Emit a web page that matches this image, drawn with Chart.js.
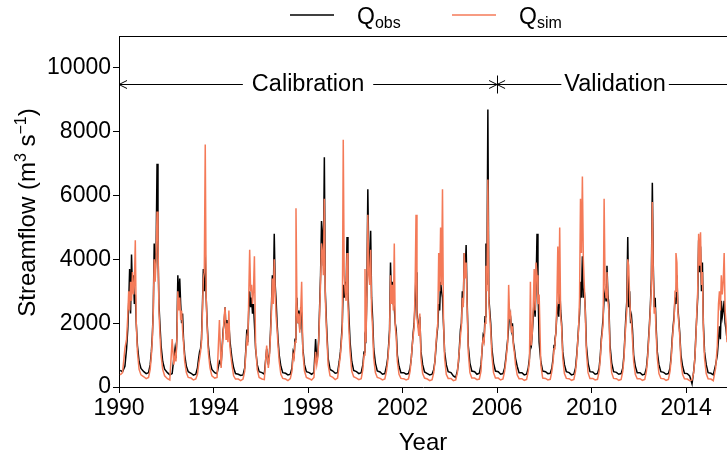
<!DOCTYPE html>
<html>
<head>
<meta charset="utf-8">
<script src="https://cdn.jsdelivr.net/npm/chart.js@4.4.1/dist/chart.umd.min.js"></script>
<style>
  html, body { margin: 0; padding: 0; background: #fff; }
</style>
</head>
<body>
<canvas id="flowChart" width="727" height="457"></canvas>
<script>
// one row per year, values at the positions inside the year given by `phases`
const years = [1990, 1991, 1992, 1993, 1994, 1995, 1996, 1997, 1998, 1999, 2000, 2001, 2002,
               2003, 2004, 2005, 2006, 2007, 2008, 2009, 2010, 2011, 2012, 2013, 2014, 2015];
const phases = [0.05, 0.15, 0.25, 0.32, 0.37, 0.41, 0.45, 0.49, 0.53, 0.57, 0.61, 0.65, 0.69, 0.73, 0.78, 0.85, 0.93];

const obs = [
  520, 480, 650, 1200, 1800, 2600, 3700, 2300, 4150, 3000, 3500, 2600, 2900, 2000, 1300, 800, 580,
  480, 420, 450, 700, 1100, 1600, 2400, 4500, 3600, 4200, 7000, 4300, 2600, 2000, 1300, 800, 560,
  450, 380, 420, 900, 1200, 900, 1600, 3500, 2600, 3400, 2600, 2000, 2300, 1500, 1000, 650, 480,
  430, 370, 400, 600, 900, 1100, 1200, 1500, 2500, 3700, 3000, 4200, 2800, 2000, 1300, 800, 550,
  450, 420, 800, 700, 1300, 1800, 2000, 2500, 1700, 2100, 1600, 2000, 1500, 1200, 900, 600, 420,
  400, 360, 380, 600, 1200, 1800, 1400, 2400, 3000, 2500, 2800, 2300, 2600, 2000, 1200, 700, 480,
  450, 400, 1200, 700, 1100, 1700, 2500, 3500, 2800, 4800, 3200, 2700, 2000, 1500, 1000, 650, 450,
  430, 380, 400, 600, 1100, 1000, 1500, 2200, 2800, 2000, 2400, 1800, 2500, 2300, 1200, 700, 480,
  450, 400, 450, 1500, 800, 1000, 1500, 2500, 3500, 5200, 4800, 3800, 7200, 3000, 2000, 900, 550,
  500, 430, 450, 800, 1100, 1500, 2000, 3200, 2800, 3300, 2900, 4700, 3000, 2200, 1400, 800, 520,
  480, 420, 450, 700, 1100, 1600, 1500, 3000, 6200, 4000, 3600, 4900, 2800, 2200, 1200, 750, 500,
  470, 400, 420, 650, 900, 1300, 1800, 3900, 2800, 3300, 2600, 2500, 2000, 1800, 1000, 650, 450,
  450, 400, 420, 600, 900, 1300, 1700, 2000, 2600, 3600, 2400, 2000, 1800, 2200, 1100, 700, 470,
  420, 380, 400, 550, 800, 1200, 1600, 1900, 2600, 2400, 3300, 3000, 2800, 2000, 1100, 700, 480,
  450, 350, 300, 500, 800, 1300, 1800, 2000, 3000, 2600, 4200, 3500, 4450, 2800, 1300, 750, 500,
  480, 400, 430, 700, 1200, 1600, 1500, 2200, 4500, 3200, 8700, 2800, 2400, 2000, 1200, 750, 500,
  480, 400, 420, 600, 900, 1200, 1500, 1900, 2400, 2200, 1800, 2000, 1400, 1200, 900, 650, 450,
  450, 380, 400, 600, 900, 1400, 1300, 1700, 2200, 2800, 2200, 3200, 4800, 3200, 1400, 800, 500,
  480, 420, 430, 600, 900, 1300, 1500, 1700, 2300, 2500, 2200, 3200, 2400, 2000, 1100, 700, 480,
  450, 380, 400, 600, 1000, 1400, 1900, 2300, 3300, 2800, 4100, 2800, 3000, 2500, 1300, 750, 480,
  470, 400, 420, 600, 1000, 1500, 1800, 2200, 2800, 3000, 2700, 3800, 2900, 2600, 1300, 750, 480,
  460, 400, 420, 600, 1000, 1600, 2200, 2700, 4700, 2500, 3000, 2000, 2200, 1800, 1000, 650, 450,
  450, 380, 400, 600, 1000, 1500, 2000, 2600, 3400, 6400, 3800, 2500, 2800, 1900, 1100, 700, 480,
  460, 400, 420, 600, 1000, 1500, 1900, 2200, 2800, 2600, 3500, 2500, 2100, 1700, 1000, 650, 430,
  420, 350, 100, 500, 900, 1600, 2200, 2800, 4600, 3600, 4400, 3000, 3900, 2000, 1100, 700, 450,
  430, 380, 700, 1000, 1500, 1900, 1500, 2700, 2200, 2400, 2700, 2000, 1800, 1500, 900, 600, 420
];

const sim = [
  380, 450, 1200, 1500, 2200, 3000, 2400, 3300, 2700, 3600, 2900, 3200, 4600, 2000, 1100, 550, 380,
  320, 260, 300, 550, 1000, 1500, 2300, 4000, 3300, 4000, 5500, 4600, 2400, 1700, 1000, 550, 350,
  260, 220, 1500, 700, 1000, 800, 1500, 3000, 2400, 2800, 2100, 2400, 1800, 1400, 800, 450, 300,
  280, 220, 250, 400, 700, 900, 1100, 1400, 2300, 3400, 3600, 7600, 2800, 1900, 1100, 600, 350,
  280, 300, 2100, 600, 1200, 1700, 2200, 2500, 1500, 2000, 1400, 2400, 1300, 1000, 700, 350, 250,
  250, 200, 250, 500, 1100, 1500, 1300, 2800, 4300, 3000, 3200, 2600, 3000, 4100, 1300, 550, 300,
  250, 230, 1300, 600, 1000, 1600, 2300, 3400, 2600, 4000, 3000, 2200, 1800, 1300, 800, 400, 270,
  250, 200, 260, 500, 1000, 900, 1400, 5600, 2600, 2000, 2300, 1700, 2400, 3300, 1100, 500, 300,
  260, 220, 300, 1100, 700, 900, 1400, 2300, 3300, 4500, 4200, 3500, 5900, 2800, 1800, 700, 350,
  300, 230, 280, 700, 1000, 1400, 1800, 7750, 3500, 3000, 2700, 4200, 2600, 1800, 1100, 500, 320,
  280, 230, 260, 550, 1000, 3700, 1400, 2800, 5400, 3500, 3200, 4300, 2400, 1900, 900, 450, 300,
  270, 220, 250, 500, 800, 1200, 1600, 3500, 2600, 3200, 2400, 4500, 1900, 1600, 800, 400, 270,
  260, 220, 250, 500, 900, 1300, 1600, 1900, 3000, 5400, 2200, 1900, 1600, 2300, 900, 420, 280,
  250, 200, 230, 450, 800, 1300, 1700, 2000, 4200, 3000, 5000, 3200, 6200, 2200, 900, 400, 270,
  270, 200, 220, 450, 900, 1200, 1600, 1900, 2800, 2500, 4200, 3400, 3900, 2600, 1100, 450, 280,
  280, 230, 250, 500, 1300, 1500, 1400, 2000, 3800, 3000, 6500, 2700, 2200, 1800, 1000, 450, 280,
  280, 220, 250, 500, 800, 1100, 1400, 3200, 2200, 2300, 1700, 1900, 1300, 1100, 700, 380, 260,
  260, 210, 240, 500, 800, 3300, 1300, 1700, 2500, 3700, 2400, 3900, 3500, 2600, 2900, 700, 280,
  270, 220, 240, 500, 800, 1200, 1400, 1700, 2600, 4400, 2600, 5000, 2200, 1900, 900, 420, 270,
  260, 210, 240, 500, 900, 1400, 1800, 2800, 5900, 4200, 6600, 4000, 3200, 2400, 1100, 450, 270,
  270, 220, 240, 500, 900, 1400, 1700, 2000, 5900, 3200, 2800, 3600, 2700, 2400, 1100, 450, 270,
  260, 210, 240, 500, 900, 1500, 2000, 2400, 4000, 3800, 2800, 2200, 2000, 1500, 800, 400, 260,
  260, 210, 240, 500, 900, 1400, 1900, 2500, 3200, 5800, 3500, 2300, 2500, 1700, 900, 420, 270,
  260, 210, 240, 500, 900, 1400, 1800, 2100, 3000, 4200, 3900, 2400, 2000, 1600, 800, 400, 260,
  250, 200, 220, 450, 900, 1500, 2300, 3000, 4800, 3800, 4850, 3200, 3600, 1800, 900, 420, 260,
  250, 200, 600, 1300, 2600, 3000, 2400, 3500, 2900, 3300, 4200, 2400, 2000, 1400, 700, 380, 250
];

const xTicks = [1990, 1994, 1998, 2002, 2006, 2010, 2014];
const yTicks = [0, 2000, 4000, 6000, 8000, 10000];
const splitYear = 2006;   // calibration / validation boundary
const arrowLevel = 9500;

const FONT = "'Liberation Sans', Arial, sans-serif";
const OBS_COLOR = '#000000';
const SIM_COLOR = '#f47a58';

// build {x, y} points from the year rows
const times = [];
years.forEach(y => phases.forEach(p => times.push(y + p)));
const obsPts = times.map((t, i) => ({ x: t, y: obs[i] }));
const simPts = times.map((t, i) => ({ x: t, y: sim[i] }));

// legend, titles and calibration/validation arrows
const decor = {
  id: 'decor',
  afterDraw(chart) {
    const ctx = chart.ctx, xs = chart.scales.x, ys = chart.scales.y, area = chart.chartArea;
    ctx.save();
    ctx.fillStyle = '#000';
    ctx.strokeStyle = '#000';
    ctx.lineWidth = 1;

    // top spine
    ctx.beginPath();
    ctx.moveTo(area.left, area.top + 0.5);
    ctx.lineTo(area.right, area.top + 0.5);
    ctx.stroke();

    // legend with subscripts
    const legY = 15;
    const drawEntry = (x0, color, sub) => {
      ctx.strokeStyle = color;
      ctx.lineWidth = 1.3;
      ctx.beginPath();
      ctx.moveTo(x0, legY);
      ctx.lineTo(x0 + 44, legY);
      ctx.stroke();
      ctx.fillStyle = '#000';
      ctx.textBaseline = 'alphabetic';
      ctx.textAlign = 'left';
      ctx.font = '23px ' + FONT;
      ctx.fillText('Q', x0 + 67, legY + 9);
      const qw = ctx.measureText('Q').width;
      ctx.font = '16px ' + FONT;
      ctx.fillText(sub, x0 + 67 + qw, legY + 13);
    };
    drawEntry(290, OBS_COLOR, 'obs');
    drawEntry(452, SIM_COLOR, 'sim');

    // x title
    ctx.fillStyle = '#000';
    ctx.font = '24px ' + FONT;
    ctx.textAlign = 'center';
    ctx.textBaseline = 'alphabetic';
    ctx.fillText('Year', (area.left + area.right) / 2, 450);

    // y title with superscripts, rotated
    ctx.save();
    ctx.translate(35, (area.top + area.bottom) / 2 + 1);
    ctx.rotate(-Math.PI / 2);
    const parts = [['Streamflow (m', false], ['3', true], [' s', false], ['\u22121', true], [')', false]];
    let total = 0;
    parts.forEach(([t, sup]) => {
      ctx.font = (sup ? '16px ' : '24px ') + FONT;
      total += ctx.measureText(t).width;
    });
    let cx = -total / 2;
    ctx.textAlign = 'left';
    parts.forEach(([t, sup]) => {
      ctx.font = (sup ? '16px ' : '24px ') + FONT;
      ctx.fillText(t, cx, sup ? -9 : 0);
      cx += ctx.measureText(t).width;
    });
    ctx.restore();

    // calibration / validation arrows
    const ay = Math.round(ys.getPixelForValue(arrowLevel)) + 0.5;
    const x0 = xs.getPixelForValue(years[0]);
    const x1 = xs.getPixelForValue(splitYear);
    const x2 = area.right + 30;
    ctx.font = '23.5px ' + FONT;
    ctx.textBaseline = 'middle';
    ctx.textAlign = 'center';
    const spanText = (a, b, label, cxm, gap) => {
      const w = ctx.measureText(label).width / 2 + gap;
      ctx.beginPath();
      ctx.moveTo(a, ay); ctx.lineTo(cxm - w, ay);
      ctx.moveTo(cxm + w, ay); ctx.lineTo(b, ay);
      ctx.stroke();
      ctx.fillText(label, cxm, ay);
    };
    const head = (x, dir) => {
      ctx.beginPath();
      ctx.moveTo(x + dir * 8, ay - 4);
      ctx.lineTo(x, ay);
      ctx.lineTo(x + dir * 8, ay + 4);
      ctx.stroke();
    };
    ctx.strokeStyle = '#000';
    ctx.lineWidth = 1;
    spanText(x0, x1, 'Calibration', (x0 + x1) / 2, 9);
    spanText(x1, x2, 'Validation', x1 + 118, 3);
    head(x0, 1);
    head(x1, -1);
    head(x1, 1);
    ctx.beginPath();
    ctx.moveTo(Math.round(x1) + 0.5, ay - 9);
    ctx.lineTo(Math.round(x1) + 0.5, ay + 9);
    ctx.stroke();

    ctx.restore();
  }
};

new Chart(document.getElementById('flowChart'), {
  type: 'line',
  data: {
    datasets: [
      { label: 'Qsim', data: simPts, borderColor: SIM_COLOR, borderWidth: 1.5 },
      { label: 'Qobs', data: obsPts, borderColor: OBS_COLOR, borderWidth: 1.5 }
    ]
  },
  options: {
    responsive: false,
    animation: false,
    parsing: false,
    elements: { point: { radius: 0 }, line: { tension: 0 } },
    layout: { padding: { top: 36, right: 0, left: 0, bottom: 0 } },
    plugins: { legend: { display: false }, tooltip: { enabled: false } },
    scales: {
      x: {
        type: 'linear',
        min: 1990,
        max: 2015.73,
        afterBuildTicks: s => { s.ticks = xTicks.map(v => ({ value: v })); },
        afterFit: s => { s.height = 70; },
        ticks: { color: '#000', font: { family: FONT, size: 23 }, padding: 2, maxRotation: 0, callback: v => String(v) },
        grid: { drawOnChartArea: false, drawTicks: true, tickLength: 6, color: '#000' },
        border: { display: true, color: '#000', width: 1 }
      },
      y: {
        min: 0,
        max: 11000,
        afterBuildTicks: s => { s.ticks = yTicks.map(v => ({ value: v })); },
        afterFit: s => { s.width = 119; },
        ticks: { color: '#000', font: { family: FONT, size: 23 }, padding: 2, callback: v => String(v) },
        grid: { drawOnChartArea: false, drawTicks: true, tickLength: 6, color: '#000' },
        border: { display: true, color: '#000', width: 1 }
      }
    }
  },
  plugins: [decor]
});
</script>
</body>
</html>
